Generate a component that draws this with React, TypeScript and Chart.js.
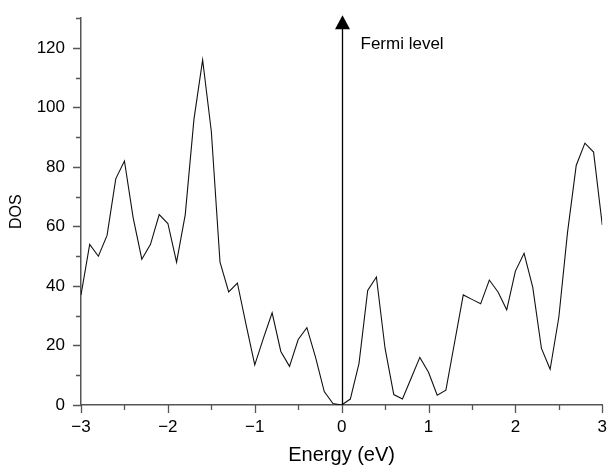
import React, { useEffect, useRef } from "react";
import { Chart, registerables } from "chart.js";

Chart.register(...registerables);

const energies: number[] = [
  -3.0, -2.9, -2.8, -2.7, -2.6, -2.5, -2.4, -2.3, -2.2, -2.1,
  -2.0, -1.9, -1.8, -1.7, -1.6, -1.5, -1.4, -1.3, -1.2, -1.1,
  -1.0, -0.9, -0.8, -0.7, -0.6, -0.5, -0.4, -0.3, -0.2, -0.1,
  0.0, 0.1, 0.2, 0.3, 0.4, 0.5, 0.6, 0.7, 0.8, 0.9,
  1.0, 1.1, 1.2, 1.3, 1.4, 1.5, 1.6, 1.7, 1.8, 1.9,
  2.0, 2.1, 2.2, 2.3, 2.4, 2.5, 2.6, 2.7, 2.8, 2.9, 3.0,
];

const dos: number[] = [
  37, 54, 50, 57, 76, 82, 63, 49, 54, 64,
  61, 48, 64, 96, 116, 92, 48, 38, 41, 27,
  13.5, 22.5, 31, 18, 13, 22, 26, 16, 4.5, 0.5,
  0, 2, 14, 38.5, 43, 19, 3.5, 2, 9, 16,
  11, 3.3, 5, 21, 37, 35.5, 34, 42, 38, 32,
  45, 51, 39.5, 19, 12, 29.5, 58, 80.5, 88, 85, 60.5,
];

const xTickValues: number[] = [-3, -2, -1, 0, 1, 2, 3];
const xMinorValues: number[] = [-2.5, -1.5, -0.5, 0.5, 1.5, 2.5];
const yTickValues: number[] = [0, 20, 40, 60, 80, 100, 120];
const yMinorValues: number[] = [10, 30, 50, 70, 90, 110, 130];

const xTitle = "Energy (eV)";
const yTitle = "DOS";
const fermiLabel = "Fermi level";
const fermiEnergy = 0;

const AXIS_COLOR = "#555";
const FONT = "'Liberation Sans', Arial, Helvetica, sans-serif";

const fmt = (v: number) => (v < 0 ? "\u2212" + Math.abs(v) : String(v));

export default function App() {
  const ref = useRef<HTMLCanvasElement | null>(null);

  useEffect(() => {
    document.body.style.margin = "0";
    const canvas = ref.current;
    if (!canvas) return;

    const overlay = {
      id: "overlay",
      afterDraw(chart: any) {
        const { ctx } = chart;
        const xs = chart.scales.x;
        const ys = chart.scales.y;
        const left = chart.chartArea.left;
        const bottom = chart.chartArea.bottom;
        ctx.save();
        // ticks
        ctx.strokeStyle = AXIS_COLOR;
        ctx.lineWidth = 1.3;
        ctx.beginPath();
        yTickValues.forEach((v) => {
          const y = Math.round(ys.getPixelForValue(v)) + 0.5;
          ctx.moveTo(left, y);
          ctx.lineTo(left - 8, y);
        });
        yMinorValues.forEach((v) => {
          const y = Math.round(ys.getPixelForValue(v)) + 0.5;
          ctx.moveTo(left, y);
          ctx.lineTo(left - 5, y);
        });
        xTickValues.forEach((v) => {
          const x = Math.round(xs.getPixelForValue(v)) + 0.5;
          ctx.moveTo(x, bottom);
          ctx.lineTo(x, bottom + 8);
        });
        xMinorValues.forEach((v) => {
          const x = Math.round(xs.getPixelForValue(v)) + 0.5;
          ctx.moveTo(x, bottom);
          ctx.lineTo(x, bottom + 5);
        });
        ctx.stroke();

        // Fermi arrow
        const x0 = Math.round(xs.getPixelForValue(fermiEnergy)) + 0.5;
        const yb = ys.getPixelForValue(0);
        const tip = ys.getPixelForValue(131);
        const headH = 14;
        const headW = 7.5;
        ctx.strokeStyle = "#000";
        ctx.lineWidth = 1.3;
        ctx.beginPath();
        ctx.moveTo(x0, yb);
        ctx.lineTo(x0, tip + headH - 1);
        ctx.stroke();
        ctx.fillStyle = "#000";
        ctx.beginPath();
        ctx.moveTo(x0, tip);
        ctx.lineTo(x0 - headW, tip + headH);
        ctx.lineTo(x0 + headW, tip + headH);
        ctx.closePath();
        ctx.fill();

        ctx.font = "17px " + FONT;
        ctx.textAlign = "left";
        ctx.textBaseline = "alphabetic";
        ctx.fillText(fermiLabel, x0 + 18, ys.getPixelForValue(119.5));
        ctx.restore();
      },
    };

    const chart = new Chart(canvas, {
      type: "line",
      data: {
        labels: energies,
        datasets: [
          {
            data: energies.map((e, i) => ({ x: e, y: dos[i] })),
            borderColor: "#111",
            borderWidth: 1.1,
            pointRadius: 0,
            tension: 0,
            fill: false,
          },
        ],
      },
      options: {
        responsive: false,
        animation: false,
        events: [],
        layout: { padding: { top: 15, right: 7, left: 0, bottom: 0 } },
        plugins: { legend: { display: false }, tooltip: { enabled: false } },
        scales: {
          x: {
            type: "linear",
            min: -3,
            max: 3,
            afterBuildTicks: (s: any) => {
              s.ticks = xTickValues.map((v) => ({ value: v }));
            },
            afterFit: (s: any) => {
              s.height = 60;
            },
            ticks: {
              callback: (v: any) => fmt(Number(v)),
              font: { family: FONT, size: 17 },
              color: "#000",
              padding: 4,
              maxRotation: 0,
              autoSkip: false,
            },
            grid: {
              display: true,
              drawOnChartArea: false,
              drawTicks: true,
              tickLength: 8,
              tickColor: "transparent",
            },
            border: { display: true, color: AXIS_COLOR, width: 1.5 },
            title: {
              display: true,
              text: xTitle,
              font: { family: FONT, size: 20, lineHeight: 1 },
              color: "#000",
              padding: { top: 0, bottom: 0 },
            },
          },
          y: {
            type: "linear",
            min: 0,
            max: 130,
            afterBuildTicks: (s: any) => {
              s.ticks = yTickValues.map((v) => ({ value: v }));
            },
            afterFit: (s: any) => {
              s.width = 81;
            },
            ticks: {
              callback: (v: any) => fmt(Number(v)),
              font: { family: FONT, size: 17 },
              color: "#000",
              padding: 8,
              autoSkip: false,
            },
            grid: {
              display: true,
              drawOnChartArea: false,
              drawTicks: true,
              tickLength: 8,
              tickColor: "transparent",
            },
            border: { display: true, color: AXIS_COLOR, width: 1.5 },
            title: {
              display: true,
              text: yTitle,
              font: { family: FONT, size: 16, lineHeight: 1 },
              color: "#000",
              padding: { top: 9, bottom: 0 },
            },
          },
        },
      },
      plugins: [overlay],
    });

    return () => chart.destroy();
  }, []);

  return (
    <div style={{ width: 611, height: 465 }}>
      <canvas ref={ref} width={611} height={465} style={{ display: "block" }} />
    </div>
  );
}
